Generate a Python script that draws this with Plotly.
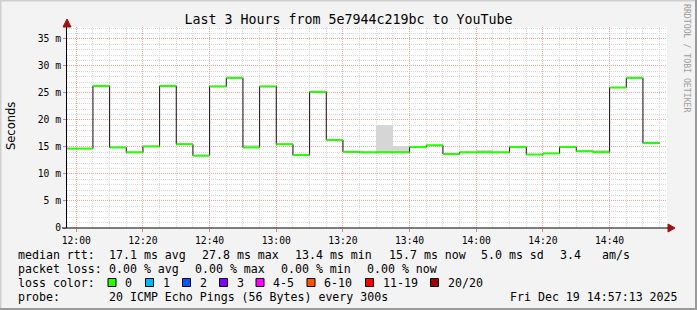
import plotly.graph_objects as go
import pandas as pd

# ---------------- data ----------------
day = "2025-12-19 "
interval_starts = ["11:55", "12:00", "12:05", "12:10", "12:15", "12:20", "12:25", "12:30", "12:35",
                   "12:40", "12:45", "12:50", "12:55", "13:00", "13:05", "13:10", "13:15", "13:20",
                   "13:25", "13:30", "13:35", "13:40", "13:45", "13:50", "13:55", "14:00", "14:05",
                   "14:10", "14:15", "14:20", "14:25", "14:30", "14:35", "14:40", "14:45", "14:50"]
median_ms = [14.7, 14.7, 26.3, 14.9, 14.0, 15.1, 26.3, 15.5, 13.4,
             26.2, 27.8, 14.9, 26.2, 15.5, 13.5, 25.2, 16.3, 14.1,
             14.0, 14.0, 14.0, 15.0, 15.3, 13.7, 14.0, 14.0, 14.0,
             15.0, 13.6, 13.8, 15.0, 14.2, 14.0, 26.0, 27.8, 15.7]
smoke_starts = ["12:10", "12:50", "13:05", "13:30", "13:35", "14:00", "14:35", "14:50"]
smoke_top_ms = [15.2, 15.4, 13.7, 19.0, 15.1, 14.4, 14.4, 16.0]

y_tick_vals = [0, 5, 10, 15, 20, 25, 30, 35]
y_tick_text = ["0", "5 m", "10 m", "15 m", "20 m", "25 m", "30 m", "35 m"]

title_text = "Last 3 Hours from 5e7944c219bc to YouTube"
row_rtt = [("median rtt:", 16), ("17.1 ms avg", 107), ("27.8 ms max", 200), ("13.4 ms min", 293),
           ("15.7 ms now", 387), ("5.0 ms sd", 479), ("3.4", 558), ("am/s", 600)]
row_loss = [("packet loss:", 16), ("0.00 % avg", 107), ("0.00 % max", 193), ("0.00 % min", 279),
            ("0.00 % now", 365)]
loss_labels = ["0", "1", "2", "3", "4-5", "6-10", "11-19", "20/20"]
loss_colors = ["#26ff00", "#00b8ff", "#0059ff", "#7e00ff", "#ff00ff", "#ff5500", "#ff0000", "#a10000"]
loss_box_x = [108, 145.5, 182.5, 219.5, 256, 307, 365.5, 430.5]
probe_text = "20 ICMP Echo Pings (56 Bytes) every 300s"
date_text = "Fri Dec 19 14:57:13 2025"

# ---------------- geometry ----------------
W, H = 697, 310
L, R, T, B = 67, 667, 27, 228
def px(x):
    return (x - L) / (R - L)
def py(y):
    return (B - y) / (B - T)

MONO = "DejaVu Sans Mono"
step = pd.Timedelta(minutes=5)
starts = [pd.Timestamp(day + s) for s in interval_starts]
ends = [s + step for s in starts]

fig = go.Figure()

# smoke
sm_starts = [pd.Timestamp(day + s) for s in smoke_starts]
sm_base = [median_ms[interval_starts.index(s)] for s in smoke_starts]
fig.add_trace(go.Bar(
    x=[s + step / 2 for s in sm_starts],
    y=[t - b for t, b in zip(smoke_top_ms, sm_base)],
    base=sm_base, width=300000,
    marker=dict(color="#d6d6d6", line=dict(width=0)),
    hoverinfo="skip", showlegend=False))

# dark step line (vertical transitions)
fig.add_trace(go.Scatter(
    x=starts + [ends[-1]], y=median_ms + [median_ms[-1]],
    mode="lines", line=dict(color="#1e0c0c", width=1, shape="hv"),
    hoverinfo="skip", showlegend=False))

# green horizontal segments (loss 0)
gx, gy = [], []
for s, e, v in zip(starts, ends, median_ms):
    gx += [s, e, None]
    gy += [v, v, None]
fig.add_trace(go.Scatter(
    x=gx, y=gy, mode="lines", line=dict(color=loss_colors[0], width=2),
    hoverinfo="skip", showlegend=False))

annotations = []
def text(t, x, y, size=11.6, color="#000000", xanchor="left", family=MONO, angle=0):
    annotations.append(dict(text=t, x=px(x), y=py(y), xref="paper", yref="paper",
                            xanchor=xanchor, yanchor="middle", showarrow=False,
                            textangle=angle,
                            font=dict(family=family, size=size, color=color)))

for t, x in row_rtt:
    text(t, x, 254.5)
for t, x in row_loss:
    text(t, x, 268.5)
text("loss color:", 16, 282.5)
shapes = []
for lab, col, bx in zip(loss_labels, loss_colors, loss_box_x):
    shapes.append(dict(type="rect", xref="paper", yref="paper",
                       x0=px(bx), x1=px(bx + 8), y0=py(286.5), y1=py(278.5),
                       fillcolor=col, line=dict(color="#000000", width=1)))
    text(lab, bx + 15, 282.5)
text("probe:", 16, 296.5)
text(probe_text, 107, 296.5)
text(date_text, 680, 296.5, xanchor="right")

text("Seconds", 11, 126, size=11.5, family="DejaVu Sans", angle=-90, xanchor="center")
text("RRDTOOL / TOBI OETIKER", 687, 58, size=8.2, color="#9c9c9c", angle=90, xanchor="center")

# axis arrows
shapes.append(dict(type="path", xref="paper", yref="paper",
                   path=f"M {px(63)} {py(27)} L {px(71)} {py(27)} L {px(67)} {py(19)} Z",
                   fillcolor="#a01010", line=dict(color="#a01010", width=1)))
shapes.append(dict(type="path", xref="paper", yref="paper",
                   path=f"M {px(668)} {py(224)} L {px(668)} {py(232)} L {px(675)} {py(228)} Z",
                   fillcolor="#a01010", line=dict(color="#a01010", width=1)))
# x axis line extension to the left
shapes.append(dict(type="line", xref="paper", yref="paper",
                   x0=px(62), x1=px(668), y0=py(228), y1=py(228),
                   line=dict(color="#000000", width=1)))
# image border
shapes.append(dict(type="line", xref="paper", yref="paper", x0=px(0.5), x1=px(0.5), y0=py(0), y1=py(310),
                   line=dict(color="#cfcfcf", width=2)))
shapes.append(dict(type="line", xref="paper", yref="paper", x0=px(0), x1=px(697), y0=py(0.5), y1=py(0.5),
                   line=dict(color="#cfcfcf", width=2)))
shapes.append(dict(type="line", xref="paper", yref="paper", x0=px(696), x1=px(696), y0=py(0), y1=py(310),
                   line=dict(color="#9a9a9a", width=2)))
shapes.append(dict(type="line", xref="paper", yref="paper", x0=px(0), x1=px(697), y0=py(309), y1=py(309),
                   line=dict(color="#9a9a9a", width=2)))

fig.update_layout(
    width=W, height=H,
    margin=dict(l=L, r=W - R, t=T, b=H - B),
    paper_bgcolor="#f3f3f3", plot_bgcolor="#ffffff",
    showlegend=False, bargap=0,
    title=dict(text=title_text, x=0.5, xref="container", xanchor="center",
               y=1 - 19 / H, yref="container", yanchor="middle",
               font=dict(family=MONO, size=13.3, color="#000000")),
    xaxis=dict(type="date",
               range=[day + "11:57:13", day + "14:57:13"],
               tick0=day + "12:00", dtick=20 * 60 * 1000, tickformat="%H:%M",
               showgrid=True, gridcolor="#f2a0a0", griddash="1px,1px", gridwidth=1,
               minor=dict(dtick=5 * 60 * 1000, tick0=day + "12:00", showgrid=True,
                          gridcolor="#d8d8d8", griddash="1px,1px", gridwidth=1),
               showline=False, zeroline=False,
               ticks="outside", ticklen=3, tickcolor="#e08080",
               tickfont=dict(family=MONO, size=9.7, color="#000000"),
               fixedrange=True),
    yaxis=dict(range=[0, 37.2],
               tickvals=y_tick_vals, ticktext=y_tick_text,
               showgrid=True, gridcolor="#f2a0a0", griddash="1px,1px", gridwidth=1,
               minor=dict(dtick=1, showgrid=True, gridcolor="#d8d8d8", griddash="1px,1px", gridwidth=1),
               showline=True, linecolor="#000000", linewidth=1, zeroline=False,
               ticks="outside", ticklen=3, tickcolor="#e08080",
               tickfont=dict(family=MONO, size=9.7, color="#000000"),
               fixedrange=True),
    annotations=annotations, shapes=shapes,
)

fig.write_html("out.html")
